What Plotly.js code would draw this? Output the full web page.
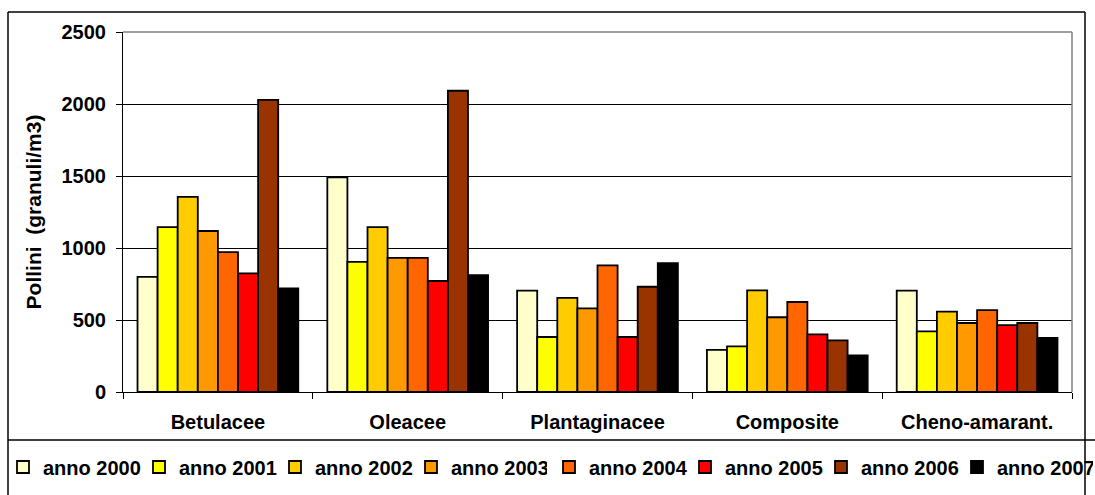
<!DOCTYPE html>
<html>
<head>
<meta charset="utf-8">
<script src="https://cdn.plot.ly/plotly-3.0.1.min.js"></script>
<style>
  html, body { margin: 0; padding: 0; background: #fff; }
  #chart { width: 1095px; height: 495px; }
</style>
</head>
<body>
<div id="chart"></div>
<script>
// Categories
const categories = ["Betulacee", "Oleacee", "Plantaginacee", "Composite", "Cheno-amarant."];
// Series names
const seriesNames = ["anno 2000", "anno 2001", "anno 2002", "anno 2003", "anno 2004", "anno 2005", "anno 2006", "anno 2007"];
// Values per year (order follows categories)
const anno2000 = [800, 1490, 704, 292, 704];
const anno2001 = [1145, 903, 382, 317, 421];
const anno2002 = [1355, 1145, 653, 706, 558];
const anno2003 = [1118, 931, 581, 519, 479];
const anno2004 = [972, 931, 880, 625, 569];
const anno2005 = [824, 771, 382, 400, 465];
const anno2006 = [2028, 2092, 731, 359, 479];
const anno2007 = [720, 812, 894, 255, 375];
const seriesValues = [anno2000, anno2001, anno2002, anno2003, anno2004, anno2005, anno2006, anno2007];
const seriesColors = ["#FFFFCC", "#FFFF00", "#FFCC00", "#FF9900", "#FF6600", "#FF0000", "#993300", "#000000"];
// Y axis ticks
const yTickVals = [0, 500, 1000, 1500, 2000, 2500];
const yTickText = ["0", "500", "1000", "1500", "2000", "2500"];

const FONT = "Liberation Sans, Arial, sans-serif";

const traces = seriesNames.map((name, i) => ({
  type: "bar",
  name: name,
  x: categories,
  y: seriesValues[i],
  legend: i < 4 ? "legend" : "legend2",
  marker: { color: seriesColors[i], line: { color: "#000", width: 1.8 } },
  hoverinfo: "x+y+name"
}));

// layout geometry helpers (pixels -> paper)
const W = 1095, H = 495;
const L = 123, R = 23, T = 32, B = 103;
const pw = W - L - R, ph = H - T - B;
const px = v => (v - L) / pw;
const py = v => (H - B - v) / ph;

const legendBase = {
  orientation: "h",
  xanchor: "left",
  y: py(467), yanchor: "middle",
  font: { family: FONT, size: 20, color: "#000", weight: "bold" },
  entrywidth: 91, entrywidthmode: "pixels",
  bgcolor: "rgba(0,0,0,0)",
  itemclick: false, itemdoubleclick: false
};

const layout = {
  width: W, height: H,
  margin: { l: L, r: R, t: T, b: B, pad: 0, autoexpand: false },
  paper_bgcolor: "#fff",
  plot_bgcolor: "#fff",
  barmode: "group",
  bargap: 0.153,
  bargroupgap: 0,
  font: { family: FONT, color: "#000", weight: "bold" },
  showlegend: true,
  legend: Object.assign({}, legendBase, { x: px(3) }),
  legend2: Object.assign({}, legendBase, { x: px(549) }),
  xaxis: {
    type: "category",
    showgrid: false,
    showline: true, linecolor: "#000", linewidth: 1,
    ticks: "outside", tickson: "boundaries", ticklen: 6, tickcolor: "#000", tickwidth: 1,
    tickfont: { family: FONT, size: 20, color: "#000", weight: "bold" },
    ticklabelstandoff: 12,
    automargin: false,
    fixedrange: true
  },
  yaxis: {
    range: [0, 2500],
    tickvals: yTickVals,
    ticktext: yTickText,
    showgrid: true, gridcolor: "#000", gridwidth: 1,
    showline: true, linecolor: "#000", linewidth: 1,
    ticks: "outside", ticklen: 6, tickcolor: "#000", tickwidth: 1,
    tickfont: { family: FONT, size: 20, color: "#000", weight: "bold" },
    ticklabelstandoff: 6,
    zeroline: false,
    automargin: false,
    title: {
      text: "Pollini\u00a0\u00a0(granuli/m3)",
      font: { family: FONT, size: 21, color: "#000", weight: "bold" },
      standoff: 14
    },
    fixedrange: true
  },
  shapes: [
    // plot-area top/right gray frame
    { type: "line", xref: "paper", yref: "paper", x0: 0, x1: 1, y0: 1, y1: 1, line: { color: "#808080", width: 1.5 }, layer: "above" },
    { type: "line", xref: "paper", yref: "paper", x0: 1, x1: 1, y0: 0, y1: 1, line: { color: "#808080", width: 1.5 }, layer: "above" },
    // outer chart border
    { type: "line", xref: "paper", yref: "paper", x0: px(8), x1: px(1085), y0: py(12), y1: py(12), line: { color: "#000", width: 1.5 } },
    { type: "line", xref: "paper", yref: "paper", x0: px(8), x1: px(8), y0: py(12), y1: py(500), line: { color: "#000", width: 1.5 } },
    { type: "line", xref: "paper", yref: "paper", x0: px(1085), x1: px(1085), y0: py(12), y1: py(500), line: { color: "#000", width: 1.5 } },
    // legend separator
    { type: "line", xref: "paper", yref: "paper", x0: px(8), x1: px(1095), y0: py(440), y1: py(440), line: { color: "#000", width: 1.5 } }
  ]
};

Plotly.newPlot("chart", traces, layout, { staticPlot: true, displayModeBar: false });
</script>
</body>
</html>
